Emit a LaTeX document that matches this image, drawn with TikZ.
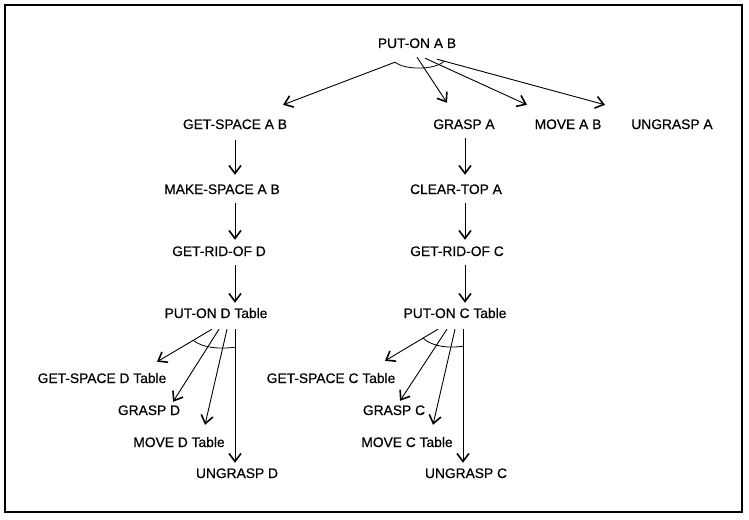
\documentclass[tikz,border=0pt]{standalone}
\usepackage{fontspec}
\setmainfont{Liberation Sans}[FakeBold=0.5]
\usetikzlibrary{arrows.meta}
\begin{document}
\begin{tikzpicture}[x=1pt,y=-1pt,
  lbl/.style={inner sep=0pt,text height=10pt,text depth=0pt,font=\fontsize{13.8}{15}\selectfont},
  arr/.style={line width=0.9pt,-{Straight Barb[length=8pt,width=12pt,line width=1.6pt]}},
  andarc/.style={line width=0.8pt}]
\useasboundingbox (0,0) rectangle (749,519);
\draw[line width=1.6pt] (5,5) rectangle (742,512);
% nodes
\node[lbl] (putAB) at (417,43) {PUT-ON A B};
\node[lbl] (getAB) at (235,124) {GET-SPACE A B};
\node[lbl] (graspA) at (464,124) {GRASP A};
\node[lbl] (moveAB) at (568,124) {MOVE A B};
\node[lbl] (ungraspA) at (672,124) {UNGRASP A};
\node[lbl] (makeAB) at (222,189) {MAKE-SPACE A B};
\node[lbl] (clearA) at (456,189) {CLEAR-TOP A};
\node[lbl] (ridD) at (219,251) {GET-RID-OF D};
\node[lbl] (ridC) at (457,251) {GET-RID-OF C};
\node[lbl] (putD) at (216,313) {PUT-ON D Table};
\node[lbl] (putC) at (455,313) {PUT-ON C Table};
\node[lbl] (gsD) at (102,378) {GET-SPACE D Table};
\node[lbl] (grD) at (149,410) {GRASP D};
\node[lbl] (mvD) at (179,442) {MOVE D Table};
\node[lbl] (ugD) at (237,473) {UNGRASP D};
\node[lbl] (gsC) at (331,378) {GET-SPACE C Table};
\node[lbl] (grC) at (394,410) {GRASP C};
\node[lbl] (mvC) at (407,442) {MOVE C Table};
\node[lbl] (ugC) at (466,473) {UNGRASP C};
% top fan
\draw[arr] ([shift={(-22,14)}]putAB.south) -- ([shift={(48,-14)}]getAB.north);
\draw[arr] ([shift={(0,9)}]putAB.south) -- ([shift={(-17,-16)}]graspA.north);
\draw[arr] ([shift={(8,10)}]putAB.south) -- ([shift={(-41,-14)}]moveAB.north);
\draw[arr] ([shift={(20,11)}]putAB.south) -- ([shift={(-67,-14)}]ungraspA.north);
\draw[andarc] ([shift={(-22,14)}]putAB.south) .. controls ([shift={(-12,22)}]putAB.south) and ([shift={(18,22)}]putAB.south) .. ([shift={(27,13)}]putAB.south);
% left column
\draw[arr] ([shift={(0,11)}]getAB.south) -- ([shift={(13,-9)}]makeAB.north);
\draw[arr] ([shift={(13,9)}]makeAB.south) -- ([shift={(16,-6)}]ridD.north);
\draw[arr] ([shift={(16,9)}]ridD.south) -- ([shift={(19,-5)}]putD.north);
% right column
\draw[arr] ([shift={(1,9)}]graspA.south) -- ([shift={(9,-9)}]clearA.north);
\draw[arr] ([shift={(9,9)}]clearA.south) -- ([shift={(8,-6)}]ridC.north);
\draw[arr] ([shift={(8,9)}]ridC.south) -- ([shift={(10,-5)}]putC.north);
% left fan
\draw[arr] ([shift={(-4,11)}]putD.south) -- ([shift={(55,-11)}]gsD.north);
\draw[arr] ([shift={(3,11)}]putD.south) -- ([shift={(24,-3)}]grD.north);
\draw[arr] ([shift={(11,11)}]putD.south) -- ([shift={(26,-12)}]mvD.north);
\draw[arr] ([shift={(19,11)}]putD.south) -- ([shift={(-2,-5)}]ugD.north);
\draw[andarc] ([shift={(-23,22)}]putD.south) .. controls ([shift={(-13,30)}]putD.south) and ([shift={(4,31)}]putD.south) .. ([shift={(19,29)}]putD.south);
% right fan
\draw[arr] ([shift={(-17,11)}]putC.south) -- ([shift={(54,-12)}]gsC.north);
\draw[arr] ([shift={(-8,11)}]putC.south) -- ([shift={(6,-4)}]grC.north);
\draw[arr] ([shift={(0,11)}]putC.south) -- ([shift={(26,-12)}]mvC.north);
\draw[arr] ([shift={(8,11)}]putC.south) -- ([shift={(-3,-5)}]ugC.north);
\draw[andarc] ([shift={(-32,20)}]putC.south) .. controls ([shift={(-22,29)}]putC.south) and ([shift={(-5,30)}]putC.south) .. ([shift={(8,28)}]putC.south);
\end{tikzpicture}
\end{document}
